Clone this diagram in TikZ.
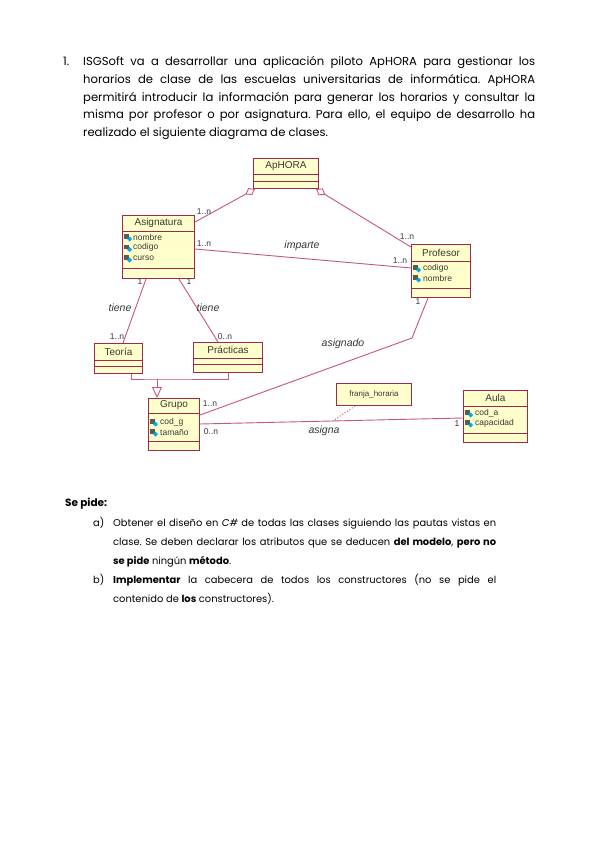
\documentclass[tikz,border=0pt]{standalone}
\usepackage{fontspec}
\setmainfont{Poppins}
\newfontfamily\diagfont{Liberation Sans}
\usetikzlibrary{arrows.meta,calc}
\definecolor{umlfill}{RGB}{255,255,204}
\definecolor{umlborder}{RGB}{160,40,80}
\definecolor{umlline}{RGB}{200,85,125}
\definecolor{umltext}{RGB}{55,55,55}
\definecolor{iconcol}{RGB}{90,90,90}
\definecolor{iconblue}{RGB}{0,170,230}
\newcommand\umlbox[7]{%
  \node[cls, minimum width=#4pt, minimum height=#5pt] (#1) at (#2,#3) {};
  \draw[clsline] ($(#1.north west)+(0,#6)$) -- ($(#1.north east)+(0,#6)$);
  \draw[clsline] ($(#1.north west)+(0,#7)$) -- ($(#1.north east)+(0,#7)$);
}
\newcommand\attricon[1]{%
  \fill[iconcol] ($(#1)+(0,-3)$) rectangle ($(#1)+(5,1.5)$);
  \fill[iconblue] ($(#1)+(5.5,-0.5)$) -- ($(#1)+(8,2)$) -- ($(#1)+(5.5,4.5)$) -- ($(#1)+(3,2)$) -- cycle;
}
\frenchspacing
\begin{document}
\begin{tikzpicture}[x=1pt,y=-1pt,
  cls/.style={draw=umlborder, fill=umlfill, line width=1pt, inner sep=0pt, anchor=north west},
  clsline/.style={draw=umlborder, line width=0.9pt},
  ctitle/.style={font=\diagfont\fontsize{10}{11}\selectfont, text=umltext, inner sep=0pt},
  attr/.style={font=\diagfont\fontsize{8.5}{9}\selectfont, text=umltext, inner sep=0pt, anchor=west},
  mult/.style={font=\diagfont\fontsize{8.5}{9}\selectfont, text=umltext, inner sep=0pt},
  role/.style={font=\diagfont\itshape\fontsize{10.5}{11}\selectfont, text=umltext, inner sep=0pt},
  assoc/.style={draw=umlline, line width=0.9pt},
  para/.style={inner sep=0pt, anchor=base west, font=\fontsize{11.6}{14}\selectfont},
  bpara/.style={inner sep=0pt, anchor=base west, font=\fontsize{9.9}{12}\selectfont}]
\fill[white] (0,0) rectangle (599,848);
\useasboundingbox (0,0) rectangle (599,848);

% ---------- top paragraph ----------
\node[para] (num) at (63,66) {1.};
\node[para] (p1) at (83,66) {\makebox[452pt][s]{ISGSoft va a desarrollar una aplicación piloto ApHORA para gestionar los}};
\node[para] (p2) at (83,83.6) {\makebox[452pt][s]{horarios de clase de las escuelas universitarias de informática. ApHORA}};
\node[para] (p3) at (83,101.2) {\makebox[452pt][s]{permitirá introducir la información para generar los horarios y consultar la}};
\node[para] (p4) at (83,118.8) {\makebox[452pt][s]{misma por profesor o por asignatura. Para ello, el equipo de desarrollo ha}};
\node[para] (p5) at (83,136.4) {realizado el siguiente diagrama de clases.};

% ---------- classes ----------
\umlbox{aph}{253}{158}{65}{30}{16}{23}
\node[ctitle] (aph-t) at ($(aph.north)+(0,8)$) {ApHORA};

\umlbox{asig}{122}{215}{72}{63}{16}{53}
\node[ctitle] (asig-t) at ($(asig.north)+(0,8)$) {Asignatura};
\attricon{$(asig.north west)+(2,22)$}
\node[attr] (asig-a1) at ($(asig.north west)+(11,22)$) {nombre};
\attricon{$(asig.north west)+(2,32.5)$}
\node[attr] (asig-a2) at ($(asig.north west)+(11,32.5)$) {codigo};
\attricon{$(asig.north west)+(2,43)$}
\node[attr] (asig-a3) at ($(asig.north west)+(11,43)$) {curso};

\umlbox{prof}{411}{244}{59}{53}{17}{44}
\node[ctitle] (prof-t) at ($(prof.north)+(0,8.5)$) {Profesor};
\attricon{$(prof.north west)+(2,24)$}
\node[attr] (prof-a1) at ($(prof.north west)+(12,24)$) {codigo};
\attricon{$(prof.north west)+(2,34)$}
\node[attr] (prof-a2) at ($(prof.north west)+(12,34)$) {nombre};

\umlbox{teo}{94}{343}{48}{30}{17}{23}
\node[ctitle] (teo-t) at ($(teo.north)+(0,8.5)$) {Teoría};

\umlbox{prac}{193}{342}{69}{30}{16}{22}
\node[ctitle] (prac-t) at ($(prac.north)+(0,8)$) {Prácticas};

\umlbox{grupo}{148}{398}{51}{52}{15}{43}
\node[ctitle] (grupo-t) at ($(grupo.north)+(0,7.5)$) {Grupo};
\attricon{$(grupo.north west)+(2,24)$}
\node[attr] (grupo-a1) at ($(grupo.north west)+(12,24)$) {cod\_g};
\attricon{$(grupo.north west)+(2,34)$}
\node[attr] (grupo-a2) at ($(grupo.north west)+(12,34)$) {tamaño};

\umlbox{aula}{463}{390}{64}{52}{16}{43}
\node[ctitle] (aula-t) at ($(aula.north)+(0,8)$) {Aula};
\attricon{$(aula.north west)+(2,23)$}
\node[attr] (aula-a1) at ($(aula.north west)+(12,23)$) {cod\_a};
\attricon{$(aula.north west)+(2,33)$}
\node[attr] (aula-a2) at ($(aula.north west)+(12,33)$) {capacidad};

\node[cls, minimum width=75pt, minimum height=22pt] (franja) at (336,383) {};
\node[font=\diagfont\fontsize{8}{9}\selectfont, text=umltext, inner sep=0pt] (franja-t) at (franja.center) {franja\_horaria};

% ---------- connectors ----------
\draw[assoc, -{Diamond[open, length=11pt, width=8pt]}] ([yshift=-7pt]asig.north east) -- ([xshift=2pt]aph.south west);
\node[mult] (m1) at (204,212) {1..n};

\draw[assoc, {Diamond[open, length=11pt, width=8pt]}-] ([xshift=-3pt]aph.south east) -- ([yshift=-3pt]prof.north west);
\node[mult] (m2) at (407,237) {1..n};

\draw[assoc] ([yshift=-34pt]asig.north east) -- ([yshift=-24pt]prof.north west);
\node[mult] (m3) at (204,244) {1..n};
\node[mult] (m4) at (400,261) {1..n};
\node[role] (r1) at (302,246) {imparte};

\draw[assoc] ([xshift=24pt]asig.south west) -- ([xshift=29pt]teo.north west);
\node[mult] (m5) at (140,282) {1};
\node[mult] (m6) at (117,337) {1..n};
\node[role] (r2) at (120,308) {tiene};

\draw[assoc] ([xshift=-16pt]asig.south east) -- ([xshift=25pt]prac.north west);
\node[mult] (m7) at (189,282) {1};
\node[mult] (m8) at (225,337) {0..n};
\node[role] (r3) at (208,308) {tiene};

\coordinate (gbar) at (157,379);
\draw[assoc] ([xshift=13pt]teo.south) |- (gbar) -| (prac.south);
\draw[assoc, -{Triangle[open, length=11pt, width=10pt]}] (gbar) -- ([xshift=9pt]grupo.north west);

\coordinate (bend) at (412,338);
\draw[assoc] ([yshift=-17pt]grupo.north east) -- (bend) -- ([xshift=17pt]prof.south west);
\node[mult] (m9) at (210,404) {1..n};
\node[mult] (m10) at (418,302) {1};
\node[role] (r4) at (343,344) {asignado};

\coordinate (gstart) at ([yshift=-26pt]grupo.north east);
\coordinate (aend) at ([yshift=-28pt]aula.north west);
\draw[assoc] (gstart) -- (aend);
\coordinate (amid) at ($(gstart)!0.505!(aend)$);
\draw[assoc, dotted, line width=1pt] ([xshift=-19pt]franja.south) -- (amid);
\node[mult] (m11) at (211,432) {0..n};
\node[mult] (m12) at (457,424) {1};
\node[role] (r5) at (324,431) {asigna};

% ---------- bottom text ----------
\node[bpara, font=\bfseries\fontsize{10.5}{12}\selectfont] (sp) at (65,506) {Se pide:};
\node[bpara] (la) at (93,526) {a)};
\node[bpara] (a1) at (113,526) {\makebox[383pt][s]{Obtener el diseño en \textit{C\#} de todas las clases siguiendo las pautas vistas en}};
\node[bpara] (a2) at (113,545) {\makebox[383pt][s]{clase. Se deben declarar los atributos que se deducen \textbf{del modelo}, \textbf{pero no}}};
\node[bpara] (a3) at (113,564) {\textbf{se pide} ningún \textbf{método}.};
\node[bpara] (lb) at (93,583) {b)};
\node[bpara] (b1) at (113,583) {\makebox[383pt][s]{\textbf{Implementar} la cabecera de todos los constructores (no se pide el}};
\node[bpara] (b2) at (113,602) {contenido de \textbf{los} constructores).};
\end{tikzpicture}
\end{document}
